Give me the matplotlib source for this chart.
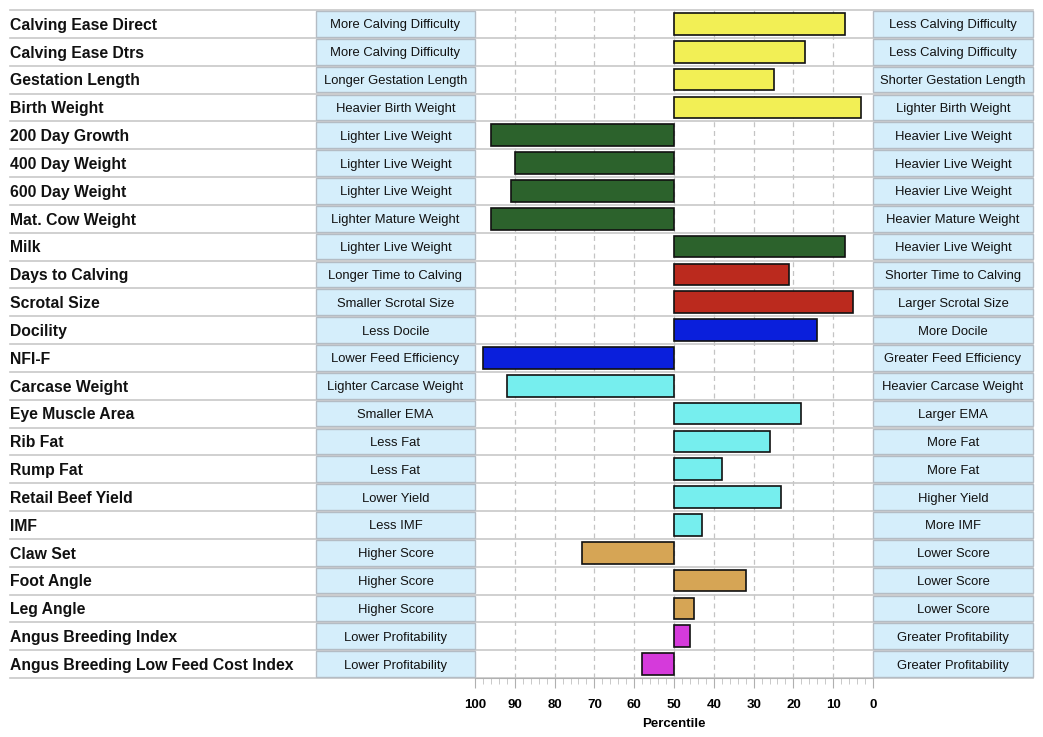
import matplotlib
matplotlib.use("Agg")
import matplotlib.pyplot as plt
from matplotlib.patches import Rectangle
from matplotlib.ticker import MultipleLocator
import matplotlib.transforms as mtransforms

plt.rcParams["font.family"] = ["Liberation Sans", "DejaVu Sans"]

traits = [
    "Calving Ease Direct", "Calving Ease Dtrs", "Gestation Length", "Birth Weight",
    "200 Day Growth", "400 Day Weight", "600 Day Weight", "Mat. Cow Weight", "Milk",
    "Days to Calving", "Scrotal Size", "Docility", "NFI-F", "Carcase Weight",
    "Eye Muscle Area", "Rib Fat", "Rump Fat", "Retail Beef Yield", "IMF",
    "Claw Set", "Foot Angle", "Leg Angle", "Angus Breeding Index",
    "Angus Breeding Low Feed Cost Index",
]
left_desc = [
    "More Calving Difficulty", "More Calving Difficulty", "Longer Gestation Length",
    "Heavier Birth Weight", "Lighter Live Weight", "Lighter Live Weight",
    "Lighter Live Weight", "Lighter Mature Weight", "Lighter Live Weight",
    "Longer Time to Calving", "Smaller Scrotal Size", "Less Docile",
    "Lower Feed Efficiency", "Lighter Carcase Weight", "Smaller EMA", "Less Fat",
    "Less Fat", "Lower Yield", "Less IMF", "Higher Score", "Higher Score",
    "Higher Score", "Lower Profitability", "Lower Profitability",
]
right_desc = [
    "Less Calving Difficulty", "Less Calving Difficulty", "Shorter Gestation Length",
    "Lighter Birth Weight", "Heavier Live Weight", "Heavier Live Weight",
    "Heavier Live Weight", "Heavier Mature Weight", "Heavier Live Weight",
    "Shorter Time to Calving", "Larger Scrotal Size", "More Docile",
    "Greater Feed Efficiency", "Heavier Carcase Weight", "Larger EMA", "More Fat",
    "More Fat", "Higher Yield", "More IMF", "Lower Score", "Lower Score",
    "Lower Score", "Greater Profitability", "Greater Profitability",
]
percentiles = [7, 17, 25, 3, 96, 90, 91, 96, 7, 21, 5, 14, 98, 92,
               18, 26, 38, 23, 43, 73, 32, 45, 46, 58]
groups = ["calving"] * 4 + ["growth"] * 5 + ["fertility"] * 2 + ["docility"] * 2 + \
         ["carcase"] * 6 + ["structure"] * 3 + ["index"] * 2
group_colors = {
    "calving": "#f2ef55",
    "growth": "#2c622c",
    "fertility": "#bb2a1e",
    "docility": "#0a1fdc",
    "carcase": "#76eeee",
    "structure": "#d6a555",
    "index": "#d53adb",
}

W, H = 1043, 737
fig = plt.figure(figsize=(W / 100, H / 100), dpi=100)
x0, x1, y0, y1 = 475, 873, 10, 678
ax = fig.add_axes([x0 / W, 1 - y1 / H, (x1 - x0) / W, (y1 - y0) / H])
ax.set_xlim(100, 0)
ax.set_ylim(len(traits), 0)

px = lambda p: (p - x0) / (x1 - x0)  # pixel x -> axes fraction
trans = mtransforms.blended_transform_factory(ax.transAxes, ax.transData)

for x in range(10, 100, 10):
    ax.axvline(x, color="#c4c4c4", lw=0.9, ls=(0, (4, 3)), zorder=0)

n = len(traits)
for i in range(n + 1):
    ax.plot([px(10), px(1033)], [i, i], transform=trans, color="#c8c8c8",
            lw=1.2, clip_on=False, zorder=1)

for i in range(n):
    ax.add_patch(Rectangle((px(316), i + 0.04), px(475) - px(316), 0.92, transform=trans,
                           facecolor="#d5eefb", edgecolor="#b4bcc4", lw=1.0,
                           clip_on=False, zorder=2))
    ax.add_patch(Rectangle((px(873), i + 0.04), px(1033) - px(873), 0.92, transform=trans,
                           facecolor="#d5eefb", edgecolor="#b4bcc4", lw=1.0,
                           clip_on=False, zorder=2))
    ax.text(px(10), i + 0.55, traits[i], transform=trans, ha="left", va="center",
            fontsize=11.3, fontweight="bold", color="#111111")
    ax.text((px(316) + px(475)) / 2, i + 0.5, left_desc[i], transform=trans,
            ha="center", va="center_baseline", fontsize=9.4, color="#111111", zorder=3)
    ax.text((px(873) + px(1033)) / 2, i + 0.5, right_desc[i], transform=trans,
            ha="center", va="center_baseline", fontsize=9.4, color="#111111", zorder=3)

ys = [i + 0.5 for i in range(n)]
widths = [p - 50 for p in percentiles]
colors = [group_colors[g] for g in groups]
ax.barh(ys, widths, left=50, height=0.78, color=colors, edgecolor="#111111",
        linewidth=1.2, zorder=4)

for s in ["top", "left", "right"]:
    ax.spines[s].set_visible(False)
ax.spines["bottom"].set_color("#b0b0b0")
ax.set_yticks([])
ax.xaxis.set_major_locator(MultipleLocator(10))
ax.xaxis.set_minor_locator(MultipleLocator(2))
ax.tick_params(axis="x", which="major", length=7, color="#b0b0b0", labelsize=9.5, pad=8)
ax.tick_params(axis="x", which="minor", length=4, color="#c0c0c0")
for lbl in ax.get_xticklabels():
    lbl.set_fontweight("bold")
ax.set_xlabel("Percentile", fontsize=9.5, fontweight="bold", labelpad=5)

fig.savefig("out.png", dpi=100)
